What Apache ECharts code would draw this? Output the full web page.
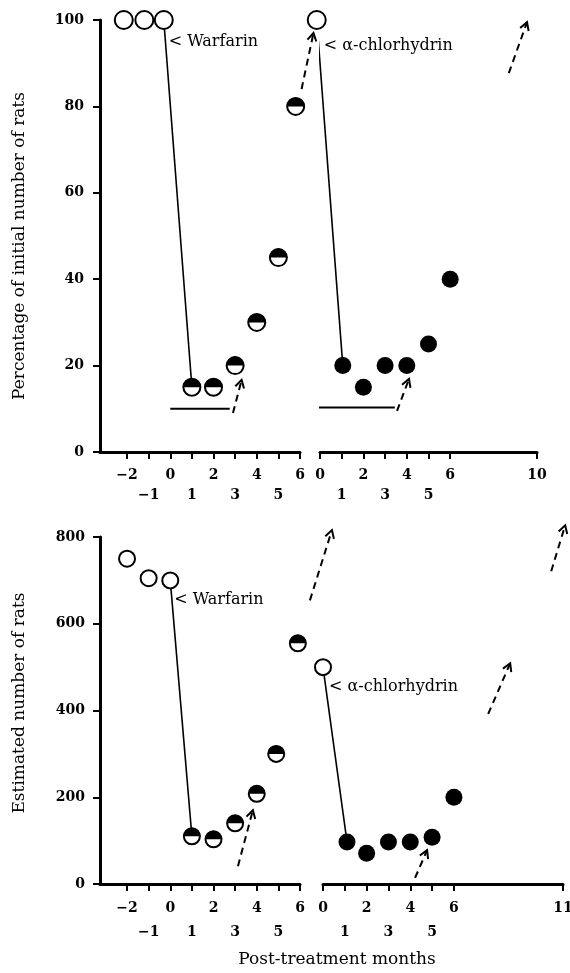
<!DOCTYPE html>
<html><head><meta charset="utf-8">
<script src="https://cdn.jsdelivr.net/npm/echarts@6/dist/echarts.min.js"></script>
<style>html,body{margin:0;padding:0;background:#fff}#c{width:570px;height:973px}</style>
</head><body><div id="c"></div>
<script>
// ---------------- data ----------------
const leftTicks = [-2, -1, 0, 1, 2, 3, 4, 5, 6];
const topRightTicks = [0, 1, 2, 3, 4, 5, 6, 10];
const botRightTicks = [0, 1, 2, 3, 4, 5, 6, 11];

// top panel: percentage of initial number of rats
const topWarfPreX = [-2.15, -1.2, -0.3];
const topWarfPreY = [100, 100, 100];
const topWarfPostX = [1, 2, 3, 4, 5, 5.8];
const topWarfPostY = [15, 15, 20, 30, 45, 80];
const topChlorPreX = [-0.15];
const topChlorPreY = [100];
const topChlorPostX = [1.05, 2, 3, 4, 5, 6];
const topChlorPostY = [20, 15, 20, 20, 25, 40];
const topLeftBarX = [0, 2.75];
const topLeftBarY = [10, 10];
const topRightBarX = [-0.1, 3.45];
const topRightBarY = [10.3, 10.3];
// dashed arrows: [x1, y1, x2, y2]
const topLeftArrows = [[2.9, 9, 3.3, 16.7]];
const topRightArrows = [[-0.85, 84, -0.3, 97], [8.7, 87.7, 9.54, 99.5], [3.55, 9.5, 4.1, 16.9]];

// bottom panel: estimated number of rats
const botWarfPreX = [-2, -1, 0];
const botWarfPreY = [750, 705, 700];
const botWarfPostX = [1, 2, 3, 4, 4.9, 5.9];
const botWarfPostY = [110, 103, 140, 208, 300, 555];
const botChlorPreX = [0];
const botChlorPreY = [500];
const botChlorPostX = [1.1, 2, 3, 4, 5, 6];
const botChlorPostY = [97, 71, 97, 97, 108, 200];
const botLeftArrows = [[3.13, 41, 3.82, 170]];
const botRightArrows = [[-0.6, 654, 0.41, 816], [10.46, 721, 11.1, 827], [7.57, 392, 8.58, 509], [4.22, 14, 4.77, 78]];

// ---------------- helpers ----------------
const FONT = 'DejaVu Serif';
const pts = (xs, ys) => xs.map((x, i) => [x, ys[i]]);
const HALF = 'path://M0 10A10 10 0 0 1 20 10Z';

function tickFmt(v) {
  const s = (v < 0 ? '\u2212' : '') + Math.abs(v);
  return (Math.abs(v) % 2 === 1 && v < 7) ? '\n' + s : s;
}
function xAxisCfg(gi, min, max, ticks, lh, margin) {
  return {
    type: 'value', gridIndex: gi, min: min, max: max,
    splitLine: { show: false },
    axisLine: { show: true, onZero: false, lineStyle: { color: '#000', width: 3 } },
    axisTick: { show: true, length: 7, customValues: ticks, lineStyle: { color: '#000', width: 2 } },
    axisLabel: { customValues: ticks, formatter: tickFmt, color: '#000', fontFamily: FONT, fontWeight: 'bold',
      fontSize: 14, lineHeight: lh, margin: margin, verticalAlign: 'top' }
  };
}
function yAxisCfg(gi, max, interval, show, margin) {
  return {
    type: 'value', gridIndex: gi, min: 0, max: max, interval: interval, show: show,
    splitLine: { show: false },
    axisLine: { show: true, onZero: false, lineStyle: { color: '#000', width: 3 } },
    axisTick: { show: true, length: 7, lineStyle: { color: '#000', width: 2 } },
    axisLabel: { color: '#000', fontFamily: FONT, fontWeight: 'bold', fontSize: 14, margin: margin }
  };
}
function arrowRender(params, api) {
  const p1 = api.coord([api.value(0), api.value(1)]);
  const p2 = api.coord([api.value(2), api.value(3)]);
  const ang = Math.atan2(p2[1] - p1[1], p2[0] - p1[0]);
  const L = 9, a = Math.PI / 6;
  const b1 = [p2[0] - L * Math.cos(ang - a), p2[1] - L * Math.sin(ang - a)];
  const b2 = [p2[0] - L * Math.cos(ang + a), p2[1] - L * Math.sin(ang + a)];
  return { type: 'group', children: [
    { type: 'line', shape: { x1: p1[0], y1: p1[1], x2: p2[0], y2: p2[1] },
      style: { stroke: '#000', lineWidth: 2, lineDash: [7, 5], fill: null } },
    { type: 'polyline', shape: { points: [b1, p2, b2] }, style: { stroke: '#000', lineWidth: 2, fill: null } }
  ] };
}
function arrows(gi, data) {
  return { type: 'custom', xAxisIndex: gi, yAxisIndex: gi, renderItem: arrowRender, data: data,
    dimensions: ['x1', 'y1', 'x2', 'y2'], encode: { x: [0, 2], y: [1, 3] }, silent: true, z: 1 };
}
function seg(gi, data, w) {
  return { type: 'line', xAxisIndex: gi, yAxisIndex: gi, data: data, symbol: 'none', clip: false,
    lineStyle: { color: '#000', width: w, opacity: 1 }, silent: true, z: 1 };
}
function openC(gi, data, size, labelText, labelPos) {
  return { type: 'scatter', xAxisIndex: gi, yAxisIndex: gi, data: data, symbol: 'circle', symbolSize: size, clip: false,
    itemStyle: { color: '#fff', borderColor: '#000', borderWidth: 2, opacity: 1 }, z: 3, silent: true,
    label: { show: true, position: labelPos, align: 'left', verticalAlign: 'middle', color: '#000', opacity: 1,
      fontFamily: FONT, fontSize: 16,
      formatter: p => p.dataIndex === data.length - 1 ? labelText : '' } };
}
function halfC(gi, data, size) {
  return [
    { type: 'scatter', xAxisIndex: gi, yAxisIndex: gi, data: data, symbol: 'circle', symbolSize: size, clip: false,
      itemStyle: { color: '#fff', borderColor: '#000', borderWidth: 2, opacity: 1 }, z: 3, silent: true },
    { type: 'scatter', xAxisIndex: gi, yAxisIndex: gi, data: data, symbol: HALF, symbolSize: [size + 1, (size + 1) / 2],
      symbolOffset: [0, '-50%'], clip: false, itemStyle: { color: '#000', opacity: 1 }, z: 4, silent: true }
  ];
}
function fillC(gi, data, size) {
  return { type: 'scatter', xAxisIndex: gi, yAxisIndex: gi, data: data, symbol: 'circle', symbolSize: size, clip: false,
    itemStyle: { color: '#000', opacity: 1 }, z: 3, silent: true };
}

const chart = echarts.init(document.getElementById('c'));
const option = {
  animation: false,
  backgroundColor: '#fff',
  grid: [
    { left: 100, top: 20, width: 200, height: 432, outerBoundsMode: 'none' },
    { left: 320, top: 20, width: 217, height: 432, outerBoundsMode: 'none' },
    { left: 100, top: 537, width: 200, height: 347, outerBoundsMode: 'none' },
    { left: 323, top: 537, width: 240, height: 347, outerBoundsMode: 'none' }
  ],
  xAxis: [
    xAxisCfg(0, -3.25, 6, leftTicks, 20, 13),
    xAxisCfg(1, 0, 10, topRightTicks, 20, 13),
    xAxisCfg(2, -3.25, 6, leftTicks, 24, 12),
    xAxisCfg(3, 0, 11, botRightTicks, 24, 12)
  ],
  yAxis: [
    yAxisCfg(0, 100, 20, true, 16),
    yAxisCfg(1, 100, 20, false, 16),
    yAxisCfg(2, 800, 200, true, 15),
    yAxisCfg(3, 800, 200, false, 15)
  ],
  graphic: [
    { type: 'text', x: 20, y: 246, rotation: Math.PI / 2,
      style: { text: 'Percentage of initial number of rats', fontFamily: FONT, fontSize: 17, fill: '#000', align: 'center', verticalAlign: 'middle' } },
    { type: 'text', x: 20, y: 703, rotation: Math.PI / 2,
      style: { text: 'Estimated number of rats', fontFamily: FONT, fontSize: 17, fill: '#000', align: 'center', verticalAlign: 'middle' } },
    { type: 'text', x: 337, y: 960,
      style: { text: 'Post-treatment months', fontFamily: FONT, fontSize: 17, fill: '#000', align: 'center', verticalAlign: 'middle' } }
  ],
  series: [
    // top-left: warfarin
    seg(0, [[topWarfPreX[2], topWarfPreY[2]], [topWarfPostX[0], topWarfPostY[0]]], 1.6),
    seg(0, pts(topLeftBarX, topLeftBarY), 2),
    arrows(0, topLeftArrows),
    openC(0, pts(topWarfPreX, topWarfPreY), 18, '< Warfarin', [15, 32]),
    ...halfC(0, pts(topWarfPostX, topWarfPostY), 17),
    // top-right: alpha-chlorhydrin
    seg(1, [[topChlorPreX[0], topChlorPreY[0]], [topChlorPostX[0], topChlorPostY[0]]], 1.6),
    seg(1, pts(topRightBarX, topRightBarY), 2),
    arrows(1, topRightArrows),
    openC(1, pts(topChlorPreX, topChlorPreY), 18, '< \u03b1-chlorhydrin', [17, 36]),
    fillC(1, pts(topChlorPostX, topChlorPostY), 17),
    // bottom-left: warfarin
    seg(2, [[botWarfPreX[2], botWarfPreY[2]], [botWarfPostX[0], botWarfPostY[0]]], 1.6),
    arrows(2, botLeftArrows),
    openC(2, pts(botWarfPreX, botWarfPreY), 16, '< Warfarin', [13, 28]),
    ...halfC(2, pts(botWarfPostX, botWarfPostY), 16),
    // bottom-right: alpha-chlorhydrin
    seg(3, [[botChlorPreX[0], botChlorPreY[0]], [botChlorPostX[0], botChlorPostY[0]]], 1.6),
    arrows(3, botRightArrows),
    openC(3, pts(botChlorPreX, botChlorPreY), 16, '< \u03b1-chlorhydrin', [15, 29]),
    fillC(3, pts(botChlorPostX, botChlorPostY), 17)
  ]
};
chart.setOption(option);
</script>
</body></html>
